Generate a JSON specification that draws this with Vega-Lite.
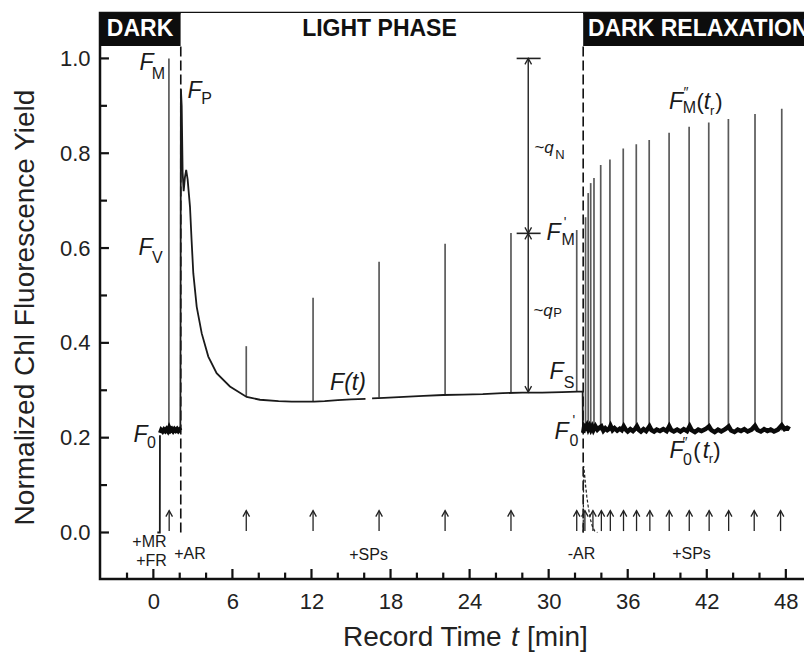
{
"$schema": "https://vega.github.io/schema/vega-lite/v6.json",
"width": 706, "height": 566,
"autosize": {"type": "none"},
"padding": {"left": 100, "top": 13, "right": 0, "bottom": 78},
"background": "white",
"view": {"stroke": "#111", "strokeWidth": 2.5},
"config": {"font": "Liberation Sans", "axis": {"grid": false, "domain": false, "ticks": false, "tickSize": 0, "labelFont": "Liberation Sans", "titleFont": "Liberation Sans", "labelColor": "#222", "titleColor": "#222", "titleFontWeight": "normal"}},
"datasets": {
"header": [{"x0": -4.05, "x1": 2.08, "tone": "dark", "label": "DARK", "lx": -1.01}, {"x0": 2.08, "x1": 32.62, "tone": "light", "label": "LIGHT PHASE", "lx": 17.16}, {"x0": 32.62, "x1": 49.53, "tone": "dark", "label": "DARK RELAXATION", "lx": 41.35}],
"switches": [{"t": 2.08}, {"t": 32.62}],
"xMajor": [{"t": 0}, {"t": 6}, {"t": 12}, {"t": 18}, {"t": 24}, {"t": 30}, {"t": 36}, {"t": 42}, {"t": 48}],
"xMinor": [{"t": -2}, {"t": 2}, {"t": 4}, {"t": 8}, {"t": 10}, {"t": 14}, {"t": 16}, {"t": 20}, {"t": 22}, {"t": 26}, {"t": 28}, {"t": 32}, {"t": 34}, {"t": 38}, {"t": 40}, {"t": 44}, {"t": 46}],
"yMajor": [{"v": 0}, {"v": 0.2}, {"v": 0.4}, {"v": 0.6}, {"v": 0.8}, {"v": 1.0}],
"yMinor": [{"v": 0.1}, {"v": 0.3}, {"v": 0.5}, {"v": 0.7}, {"v": 0.9}],
"xTitle": [{"t": 14.39, "s": "Record Time"}, {"t": 28.36, "s": "[min]"}],
"xTitleItalic": [{"t": 27.14, "s": "t"}],
"pulses": [{"t": 1.18, "base": 0.215, "top": 1.0}, {"t": 7.05, "base": 0.286, "top": 0.393}, {"t": 12.12, "base": 0.276, "top": 0.495}, {"t": 17.13, "base": 0.285, "top": 0.571}, {"t": 22.14, "base": 0.29, "top": 0.609}, {"t": 27.14, "base": 0.294, "top": 0.632}, {"t": 32.13, "base": 0.297, "top": 0.638}, {"t": 32.8, "base": 0.215, "top": 0.665}, {"t": 33.0, "base": 0.215, "top": 0.716}, {"t": 33.19, "base": 0.215, "top": 0.737}, {"t": 33.44, "base": 0.215, "top": 0.748}, {"t": 33.95, "base": 0.215, "top": 0.775}, {"t": 34.65, "base": 0.215, "top": 0.787}, {"t": 35.66, "base": 0.215, "top": 0.81}, {"t": 36.65, "base": 0.215, "top": 0.819}, {"t": 37.63, "base": 0.215, "top": 0.828}, {"t": 39.14, "base": 0.215, "top": 0.843}, {"t": 40.66, "base": 0.215, "top": 0.856}, {"t": 42.15, "base": 0.215, "top": 0.865}, {"t": 43.64, "base": 0.215, "top": 0.872}, {"t": 45.66, "base": 0.215, "top": 0.883}, {"t": 47.69, "base": 0.215, "top": 0.894}],
"trace": [{"seg": "R0", "t": 0.3, "v": 0.0}, {"seg": "R0", "t": 0.49, "v": 0.0}, {"seg": "R0", "t": 0.5, "v": 0.205},
{"seg": "L1", "t": 2.05, "v": 0.215}, {"seg": "L1", "t": 2.09, "v": 0.935}, {"seg": "L1", "t": 2.15, "v": 0.9}, {"seg": "L1", "t": 2.22, "v": 0.76}, {"seg": "L1", "t": 2.3, "v": 0.72}, {"seg": "L1", "t": 2.4, "v": 0.75}, {"seg": "L1", "t": 2.49, "v": 0.765}, {"seg": "L1", "t": 2.6, "v": 0.745}, {"seg": "L1", "t": 2.78, "v": 0.687}, {"seg": "L1", "t": 2.9, "v": 0.617}, {"seg": "L1", "t": 3.03, "v": 0.547}, {"seg": "L1", "t": 3.29, "v": 0.476}, {"seg": "L1", "t": 3.67, "v": 0.42}, {"seg": "L1", "t": 4.17, "v": 0.371}, {"seg": "L1", "t": 4.8, "v": 0.336}, {"seg": "L1", "t": 5.81, "v": 0.308}, {"seg": "L1", "t": 7.08, "v": 0.286}, {"seg": "L1", "t": 8.09, "v": 0.28}, {"seg": "L1", "t": 9.5, "v": 0.277}, {"seg": "L1", "t": 10.5, "v": 0.276}, {"seg": "L1", "t": 11.5, "v": 0.276}, {"seg": "L1", "t": 12.2, "v": 0.276}, {"seg": "L1", "t": 13.0, "v": 0.277}, {"seg": "L1", "t": 14.0, "v": 0.279}, {"seg": "L1", "t": 15.0, "v": 0.281}, {"seg": "L1", "t": 16.1, "v": 0.282},
{"seg": "L2", "t": 16.6, "v": 0.283}, {"seg": "L2", "t": 17.5, "v": 0.284}, {"seg": "L2", "t": 19.0, "v": 0.286}, {"seg": "L2", "t": 20.5, "v": 0.288}, {"seg": "L2", "t": 22.0, "v": 0.29}, {"seg": "L2", "t": 23.5, "v": 0.291}, {"seg": "L2", "t": 25.0, "v": 0.292}, {"seg": "L2", "t": 26.5, "v": 0.294}, {"seg": "L2", "t": 28.0, "v": 0.295}, {"seg": "L2", "t": 29.5, "v": 0.295}, {"seg": "L2", "t": 31.0, "v": 0.296}, {"seg": "L2", "t": 32.2, "v": 0.297}, {"seg": "L2", "t": 32.58, "v": 0.297}, {"seg": "L2", "t": 32.6, "v": 0.21}],
"noisy": [{"seg": "D1", "t": 0.52, "v": 0.21}, {"seg": "D1", "t": 0.6, "v": 0.216}, {"seg": "D1", "t": 0.7, "v": 0.213}, {"seg": "D1", "t": 0.8, "v": 0.217}, {"seg": "D1", "t": 0.9, "v": 0.214}, {"seg": "D1", "t": 1.0, "v": 0.218}, {"seg": "D1", "t": 1.1, "v": 0.214}, {"seg": "D1", "t": 1.2, "v": 0.221}, {"seg": "D1", "t": 1.3, "v": 0.215}, {"seg": "D1", "t": 1.4, "v": 0.218}, {"seg": "D1", "t": 1.5, "v": 0.214}, {"seg": "D1", "t": 1.6, "v": 0.218}, {"seg": "D1", "t": 1.7, "v": 0.215}, {"seg": "D1", "t": 1.8, "v": 0.218}, {"seg": "D1", "t": 1.9, "v": 0.214}, {"seg": "D1", "t": 2.0, "v": 0.217}, {"seg": "D1", "t": 2.06, "v": 0.215},
{"seg": "D2", "t": 32.62, "v": 0.21}, {"seg": "D2", "t": 32.7, "v": 0.224}, {"seg": "D2", "t": 32.8, "v": 0.221}, {"seg": "D2", "t": 32.9, "v": 0.226}, {"seg": "D2", "t": 33.0, "v": 0.218}, {"seg": "D2", "t": 33.1, "v": 0.224}, {"seg": "D2", "t": 33.2, "v": 0.217}, {"seg": "D2", "t": 33.3, "v": 0.223}, {"seg": "D2", "t": 33.4, "v": 0.216}, {"seg": "D2", "t": 33.55, "v": 0.224}, {"seg": "D2", "t": 33.7, "v": 0.217}, {"seg": "D2", "t": 33.85, "v": 0.221}, {"seg": "D2", "t": 34.0, "v": 0.224}, {"seg": "D2", "t": 34.15, "v": 0.215}, {"seg": "D2", "t": 34.3, "v": 0.22}, {"seg": "D2", "t": 34.45, "v": 0.216}, {"seg": "D2", "t": 34.6, "v": 0.219}, {"seg": "D2", "t": 34.7, "v": 0.225}, {"seg": "D2", "t": 34.85, "v": 0.216}, {"seg": "D2", "t": 35.0, "v": 0.22}, {"seg": "D2", "t": 35.2, "v": 0.215}, {"seg": "D2", "t": 35.4, "v": 0.219}, {"seg": "D2", "t": 35.55, "v": 0.216}, {"seg": "D2", "t": 35.7, "v": 0.224}, {"seg": "D2", "t": 35.85, "v": 0.217}, {"seg": "D2", "t": 36.0, "v": 0.213}, {"seg": "D2", "t": 36.2, "v": 0.218}, {"seg": "D2", "t": 36.4, "v": 0.214}, {"seg": "D2", "t": 36.55, "v": 0.218}, {"seg": "D2", "t": 36.7, "v": 0.224}, {"seg": "D2", "t": 36.85, "v": 0.216}, {"seg": "D2", "t": 37.0, "v": 0.213}, {"seg": "D2", "t": 37.2, "v": 0.218}, {"seg": "D2", "t": 37.4, "v": 0.214}, {"seg": "D2", "t": 37.65, "v": 0.224}, {"seg": "D2", "t": 37.8, "v": 0.216}, {"seg": "D2", "t": 38.0, "v": 0.213}, {"seg": "D2", "t": 38.2, "v": 0.217}, {"seg": "D2", "t": 38.45, "v": 0.214}, {"seg": "D2", "t": 38.7, "v": 0.218}, {"seg": "D2", "t": 38.95, "v": 0.214}, {"seg": "D2", "t": 39.15, "v": 0.224}, {"seg": "D2", "t": 39.3, "v": 0.216}, {"seg": "D2", "t": 39.5, "v": 0.213}, {"seg": "D2", "t": 39.75, "v": 0.217}, {"seg": "D2", "t": 40.0, "v": 0.213}, {"seg": "D2", "t": 40.25, "v": 0.218}, {"seg": "D2", "t": 40.5, "v": 0.214}, {"seg": "D2", "t": 40.7, "v": 0.224}, {"seg": "D2", "t": 40.85, "v": 0.216}, {"seg": "D2", "t": 41.1, "v": 0.212}, {"seg": "D2", "t": 41.35, "v": 0.217}, {"seg": "D2", "t": 41.6, "v": 0.214}, {"seg": "D2", "t": 41.9, "v": 0.218}, {"seg": "D2", "t": 42.17, "v": 0.224}, {"seg": "D2", "t": 42.35, "v": 0.216}, {"seg": "D2", "t": 42.6, "v": 0.212}, {"seg": "D2", "t": 42.85, "v": 0.217}, {"seg": "D2", "t": 43.1, "v": 0.213}, {"seg": "D2", "t": 43.4, "v": 0.218}, {"seg": "D2", "t": 43.66, "v": 0.224}, {"seg": "D2", "t": 43.85, "v": 0.215}, {"seg": "D2", "t": 44.1, "v": 0.212}, {"seg": "D2", "t": 44.35, "v": 0.217}, {"seg": "D2", "t": 44.6, "v": 0.214}, {"seg": "D2", "t": 44.85, "v": 0.218}, {"seg": "D2", "t": 45.1, "v": 0.213}, {"seg": "D2", "t": 45.4, "v": 0.217}, {"seg": "D2", "t": 45.66, "v": 0.225}, {"seg": "D2", "t": 45.85, "v": 0.216}, {"seg": "D2", "t": 46.1, "v": 0.213}, {"seg": "D2", "t": 46.35, "v": 0.218}, {"seg": "D2", "t": 46.6, "v": 0.214}, {"seg": "D2", "t": 46.85, "v": 0.217}, {"seg": "D2", "t": 47.1, "v": 0.213}, {"seg": "D2", "t": 47.4, "v": 0.217}, {"seg": "D2", "t": 47.69, "v": 0.226}, {"seg": "D2", "t": 47.9, "v": 0.218}, {"seg": "D2", "t": 48.1, "v": 0.221}, {"seg": "D2", "t": 48.3, "v": 0.218}],
"decay": [{"t": 32.62, "v": 0.0}, {"t": 32.66, "v": 0.14}, {"t": 32.72, "v": 0.125}, {"t": 32.8, "v": 0.1}, {"t": 32.9, "v": 0.075}, {"t": 33.0, "v": 0.055}, {"t": 33.15, "v": 0.03}, {"t": 33.3, "v": 0.014}, {"t": 33.5, "v": 0.003}, {"t": 33.7, "v": 0.0}],
"arrows": [{"t": 1.2}, {"t": 7.05}, {"t": 12.12}, {"t": 17.13}, {"t": 22.14}, {"t": 27.14}, {"t": 32.13}, {"t": 32.75}, {"t": 33.36}, {"t": 34.0}, {"t": 34.68}, {"t": 35.68}, {"t": 36.67}, {"t": 37.68}, {"t": 39.15}, {"t": 40.67}, {"t": 42.18}, {"t": 43.66}, {"t": 45.6}, {"t": 47.6}],
"qline": [{"t": 28.45, "v0": 0.296, "v1": 1.0}],
"qbars": [{"t0": 27.57, "t1": 29.39, "v": 1.0}, {"t0": 27.57, "t1": 29.39, "v": 0.631}],
"heads": [{"t": 28.45, "v": 1.0, "dir": "up"}, {"t": 28.45, "v": 0.631, "dir": "down"}, {"t": 28.45, "v": 0.631, "dir": "up"}, {"t": 28.45, "v": 0.296, "dir": "down"}],
"fItalic": [{"t": -0.52, "v": 0.99, "s": "F"}, {"t": 3.12, "v": 0.931, "s": "F"}, {"t": -0.6, "v": 0.6, "s": "F"}, {"t": -0.98, "v": 0.206, "s": "F"}, {"t": 14.77, "v": 0.315, "s": "F(t)"}, {"t": 30.59, "v": 0.339, "s": "F"}, {"t": 30.37, "v": 0.631, "s": "F"}, {"t": 30.97, "v": 0.213, "s": "F"}, {"t": 39.66, "v": 0.908, "s": "F"}, {"t": 42.02, "v": 0.908, "s": "t"}, {"t": 39.7, "v": 0.172, "s": "F"}, {"t": 41.94, "v": 0.172, "s": "t"}],
"sub": [{"t": 0.39, "v": 0.968, "s": "M"}, {"t": 4.03, "v": 0.915, "s": "P"}, {"t": 0.31, "v": 0.579, "s": "V"}, {"t": -0.14, "v": 0.188, "s": "0"}, {"t": 31.54, "v": 0.316, "s": "S"}, {"t": 31.47, "v": 0.618, "s": "M"}, {"t": 31.92, "v": 0.193, "s": "0"}, {"t": 40.69, "v": 0.895, "s": "M"}, {"t": 40.54, "v": 0.153, "s": "0"}],
"small": [{"t": 42.4, "v": 0.889, "s": "r"}, {"t": 42.32, "v": 0.155, "s": "r"}, {"t": 30.86, "v": 0.796, "s": "N"}, {"t": 30.67, "v": 0.462, "s": "P"}],
"paren": [{"t": 41.49, "v": 0.908, "s": "("}, {"t": 42.92, "v": 0.908, "s": ")"}, {"t": 41.26, "v": 0.172, "s": "("}, {"t": 42.77, "v": 0.172, "s": ")"}],
"sup": [{"t": 31.24, "v": 0.653, "s": "'"}, {"t": 31.92, "v": 0.235, "s": "'"}, {"t": 40.42, "v": 0.927, "s": "″"}, {"t": 40.34, "v": 0.189, "s": "″"}],
"qlabels": [{"t": 29.64, "v": 0.811, "s": "~q"}, {"t": 29.57, "v": 0.467, "s": "~q"}],
"events": [{"t": -0.3, "v": -0.021, "s": "+MR"}, {"t": -0.14, "v": -0.06, "s": "+FR"}, {"t": 2.78, "v": -0.046, "s": "+AR"}, {"t": 16.33, "v": -0.047, "s": "+SPs"}, {"t": 32.49, "v": -0.046, "s": "-AR"}, {"t": 40.84, "v": -0.046, "s": "+SPs"}]
},
"layer": [
{"data": {"name": "header"}, "mark": {"type": "rect"},
 "encoding": {"x": {"field": "x0", "type": "quantitative", "scale": {"domain": [-4.05, 49.53], "nice": false, "zero": false},
   "axis": {"orient": "bottom", "values": [0, 6, 12, 18, 24, 30, 36, 42, 48], "labelFontSize": 22, "labelPadding": 12, "title": null}},
  "x2": {"field": "x1"},
  "y": {"datum": 1.0264, "type": "quantitative", "scale": {"domain": [-0.0981, 1.0958], "nice": false, "zero": false},
   "axis": {"orient": "left", "values": [0, 0.2, 0.4, 0.6, 0.8, 1.0], "format": ".1f", "labelFontSize": 22, "labelPadding": 10, "title": "Normalized Chl Fluorescence Yield", "titleFontSize": 28, "titleX": -61, "titleY": 294}},
  "y2": {"datum": 1.0958},
  "color": {"field": "tone", "type": "nominal", "scale": {"domain": ["dark", "light"], "range": ["#0d0d0d", "#ffffff"]}, "legend": null}}},
{"data": {"name": "header"}, "mark": {"type": "text", "fontWeight": "bold", "fontSize": 23, "align": "center", "baseline": "middle"},
 "encoding": {"x": {"field": "lx", "type": "quantitative"}, "y": {"datum": 1.061, "type": "quantitative"}, "text": {"field": "label"},
  "color": {"condition": {"test": "datum.tone === 'dark'", "value": "#ffffff"}, "value": "#111111"}}},
{"data": {"name": "xTitle"}, "mark": {"type": "text", "fontSize": 28, "align": "left", "baseline": "middle", "color": "#222"},
 "encoding": {"x": {"field": "t", "type": "quantitative"}, "y": {"datum": -0.2226, "type": "quantitative"}, "text": {"field": "s"}}},
{"data": {"name": "xTitleItalic"}, "mark": {"type": "text", "fontSize": 28, "fontStyle": "italic", "align": "left", "baseline": "middle", "color": "#222"},
 "encoding": {"x": {"field": "t", "type": "quantitative"}, "y": {"datum": -0.2226, "type": "quantitative"}, "text": {"field": "s"}}},
{"mark": {"type": "rule", "color": "#111", "strokeWidth": 1.5}, "encoding": {"y": {"datum": 1.0264, "type": "quantitative"}}},
{"mark": {"type": "rule", "color": "#111", "strokeWidth": 1.5}, "encoding": {"y": {"datum": 0, "type": "quantitative"}}},
{"data": {"name": "xMajor"}, "mark": {"type": "rule", "color": "#111", "strokeWidth": 2.2},
 "encoding": {"x": {"field": "t", "type": "quantitative"}, "y": {"datum": -0.0981, "type": "quantitative"}, "y2": {"datum": -0.077}}},
{"data": {"name": "xMinor"}, "mark": {"type": "rule", "color": "#111", "strokeWidth": 2.2},
 "encoding": {"x": {"field": "t", "type": "quantitative"}, "y": {"datum": -0.0981, "type": "quantitative"}, "y2": {"datum": -0.0846}}},
{"data": {"name": "yMajor"}, "mark": {"type": "rule", "color": "#111", "strokeWidth": 2.2},
 "encoding": {"y": {"field": "v", "type": "quantitative"}, "x": {"datum": -4.05, "type": "quantitative"}, "x2": {"datum": -3.37}}},
{"data": {"name": "yMinor"}, "mark": {"type": "rule", "color": "#111", "strokeWidth": 2.2},
 "encoding": {"y": {"field": "v", "type": "quantitative"}, "x": {"datum": -4.05, "type": "quantitative"}, "x2": {"datum": -3.52}}},
{"data": {"name": "switches"}, "mark": {"type": "rule", "color": "#111", "strokeWidth": 1.6, "strokeDash": [10, 4]},
 "encoding": {"x": {"field": "t", "type": "quantitative"}, "y": {"datum": 0, "type": "quantitative"}, "y2": {"datum": 1.0264}}},
{"data": {"name": "pulses"}, "mark": {"type": "rule", "color": "#5a5a5a", "strokeWidth": 1.7},
 "encoding": {"x": {"field": "t", "type": "quantitative"}, "y": {"field": "base", "type": "quantitative"}, "y2": {"field": "top"}}},
{"data": {"name": "trace"}, "mark": {"type": "line", "color": "#1a1a1a", "strokeWidth": 1.8},
 "encoding": {"x": {"field": "t", "type": "quantitative"}, "y": {"field": "v", "type": "quantitative"}, "detail": {"field": "seg"}}},
{"data": {"name": "noisy"}, "mark": {"type": "line", "color": "#0a0a0a", "strokeWidth": 4.5},
 "encoding": {"x": {"field": "t", "type": "quantitative"}, "y": {"field": "v", "type": "quantitative"}, "detail": {"field": "seg"}}},
{"data": {"name": "decay"}, "mark": {"type": "line", "color": "#222", "strokeWidth": 1.2, "strokeDash": [3, 2]},
 "encoding": {"x": {"field": "t", "type": "quantitative"}, "y": {"field": "v", "type": "quantitative"}}},
{"data": {"name": "arrows"}, "mark": {"type": "rule", "color": "#222", "strokeWidth": 1.3},
 "encoding": {"x": {"field": "t", "type": "quantitative"}, "y": {"datum": 0.003, "type": "quantitative"}, "y2": {"datum": 0.046}}},
{"data": {"name": "arrows"}, "mark": {"type": "point", "shape": "M-1.1,2L0,0L1.1,2", "size": 36, "filled": false, "color": "#222", "strokeWidth": 1.3, "opacity": 1},
 "encoding": {"x": {"field": "t", "type": "quantitative"}, "y": {"datum": 0.046, "type": "quantitative"}}},
{"data": {"name": "qline"}, "mark": {"type": "rule", "color": "#222", "strokeWidth": 1.4},
 "encoding": {"x": {"field": "t", "type": "quantitative"}, "y": {"field": "v0", "type": "quantitative"}, "y2": {"field": "v1"}}},
{"data": {"name": "qbars"}, "mark": {"type": "rule", "color": "#222", "strokeWidth": 1.6},
 "encoding": {"x": {"field": "t0", "type": "quantitative"}, "x2": {"field": "t1"}, "y": {"field": "v", "type": "quantitative"}}},
{"data": {"name": "heads"}, "mark": {"type": "point", "size": 36, "filled": false, "color": "#222", "strokeWidth": 1.3, "opacity": 1},
 "encoding": {"x": {"field": "t", "type": "quantitative"}, "y": {"field": "v", "type": "quantitative"},
  "shape": {"field": "dir", "type": "nominal", "scale": {"domain": ["up", "down"], "range": ["M-1.1,2L0,0L1.1,2", "M-1.1,-2L0,0L1.1,-2"]}, "legend": null}}},
{"data": {"name": "fItalic"}, "mark": {"type": "text", "fontStyle": "italic", "fontSize": 23, "align": "center", "baseline": "middle", "color": "#1a1a1a"},
 "encoding": {"x": {"field": "t", "type": "quantitative"}, "y": {"field": "v", "type": "quantitative"}, "text": {"field": "s"}}},
{"data": {"name": "paren"}, "mark": {"type": "text", "fontSize": 22, "align": "center", "baseline": "middle", "color": "#1a1a1a"},
 "encoding": {"x": {"field": "t", "type": "quantitative"}, "y": {"field": "v", "type": "quantitative"}, "text": {"field": "s"}}},
{"data": {"name": "sub"}, "mark": {"type": "text", "fontSize": 16, "align": "center", "baseline": "middle", "color": "#1a1a1a"},
 "encoding": {"x": {"field": "t", "type": "quantitative"}, "y": {"field": "v", "type": "quantitative"}, "text": {"field": "s"}}},
{"data": {"name": "small"}, "mark": {"type": "text", "fontSize": 13, "align": "center", "baseline": "middle", "color": "#1a1a1a"},
 "encoding": {"x": {"field": "t", "type": "quantitative"}, "y": {"field": "v", "type": "quantitative"}, "text": {"field": "s"}}},
{"data": {"name": "sup"}, "mark": {"type": "text", "fontSize": 14, "align": "center", "baseline": "middle", "color": "#1a1a1a"},
 "encoding": {"x": {"field": "t", "type": "quantitative"}, "y": {"field": "v", "type": "quantitative"}, "text": {"field": "s"}}},
{"data": {"name": "qlabels"}, "mark": {"type": "text", "fontStyle": "italic", "fontSize": 17, "align": "center", "baseline": "middle", "color": "#1a1a1a"},
 "encoding": {"x": {"field": "t", "type": "quantitative"}, "y": {"field": "v", "type": "quantitative"}, "text": {"field": "s"}}},
{"data": {"name": "events"}, "mark": {"type": "text", "fontSize": 16, "align": "center", "baseline": "middle", "color": "#1a1a1a"},
 "encoding": {"x": {"field": "t", "type": "quantitative"}, "y": {"field": "v", "type": "quantitative"}, "text": {"field": "s"}}}
]
}
